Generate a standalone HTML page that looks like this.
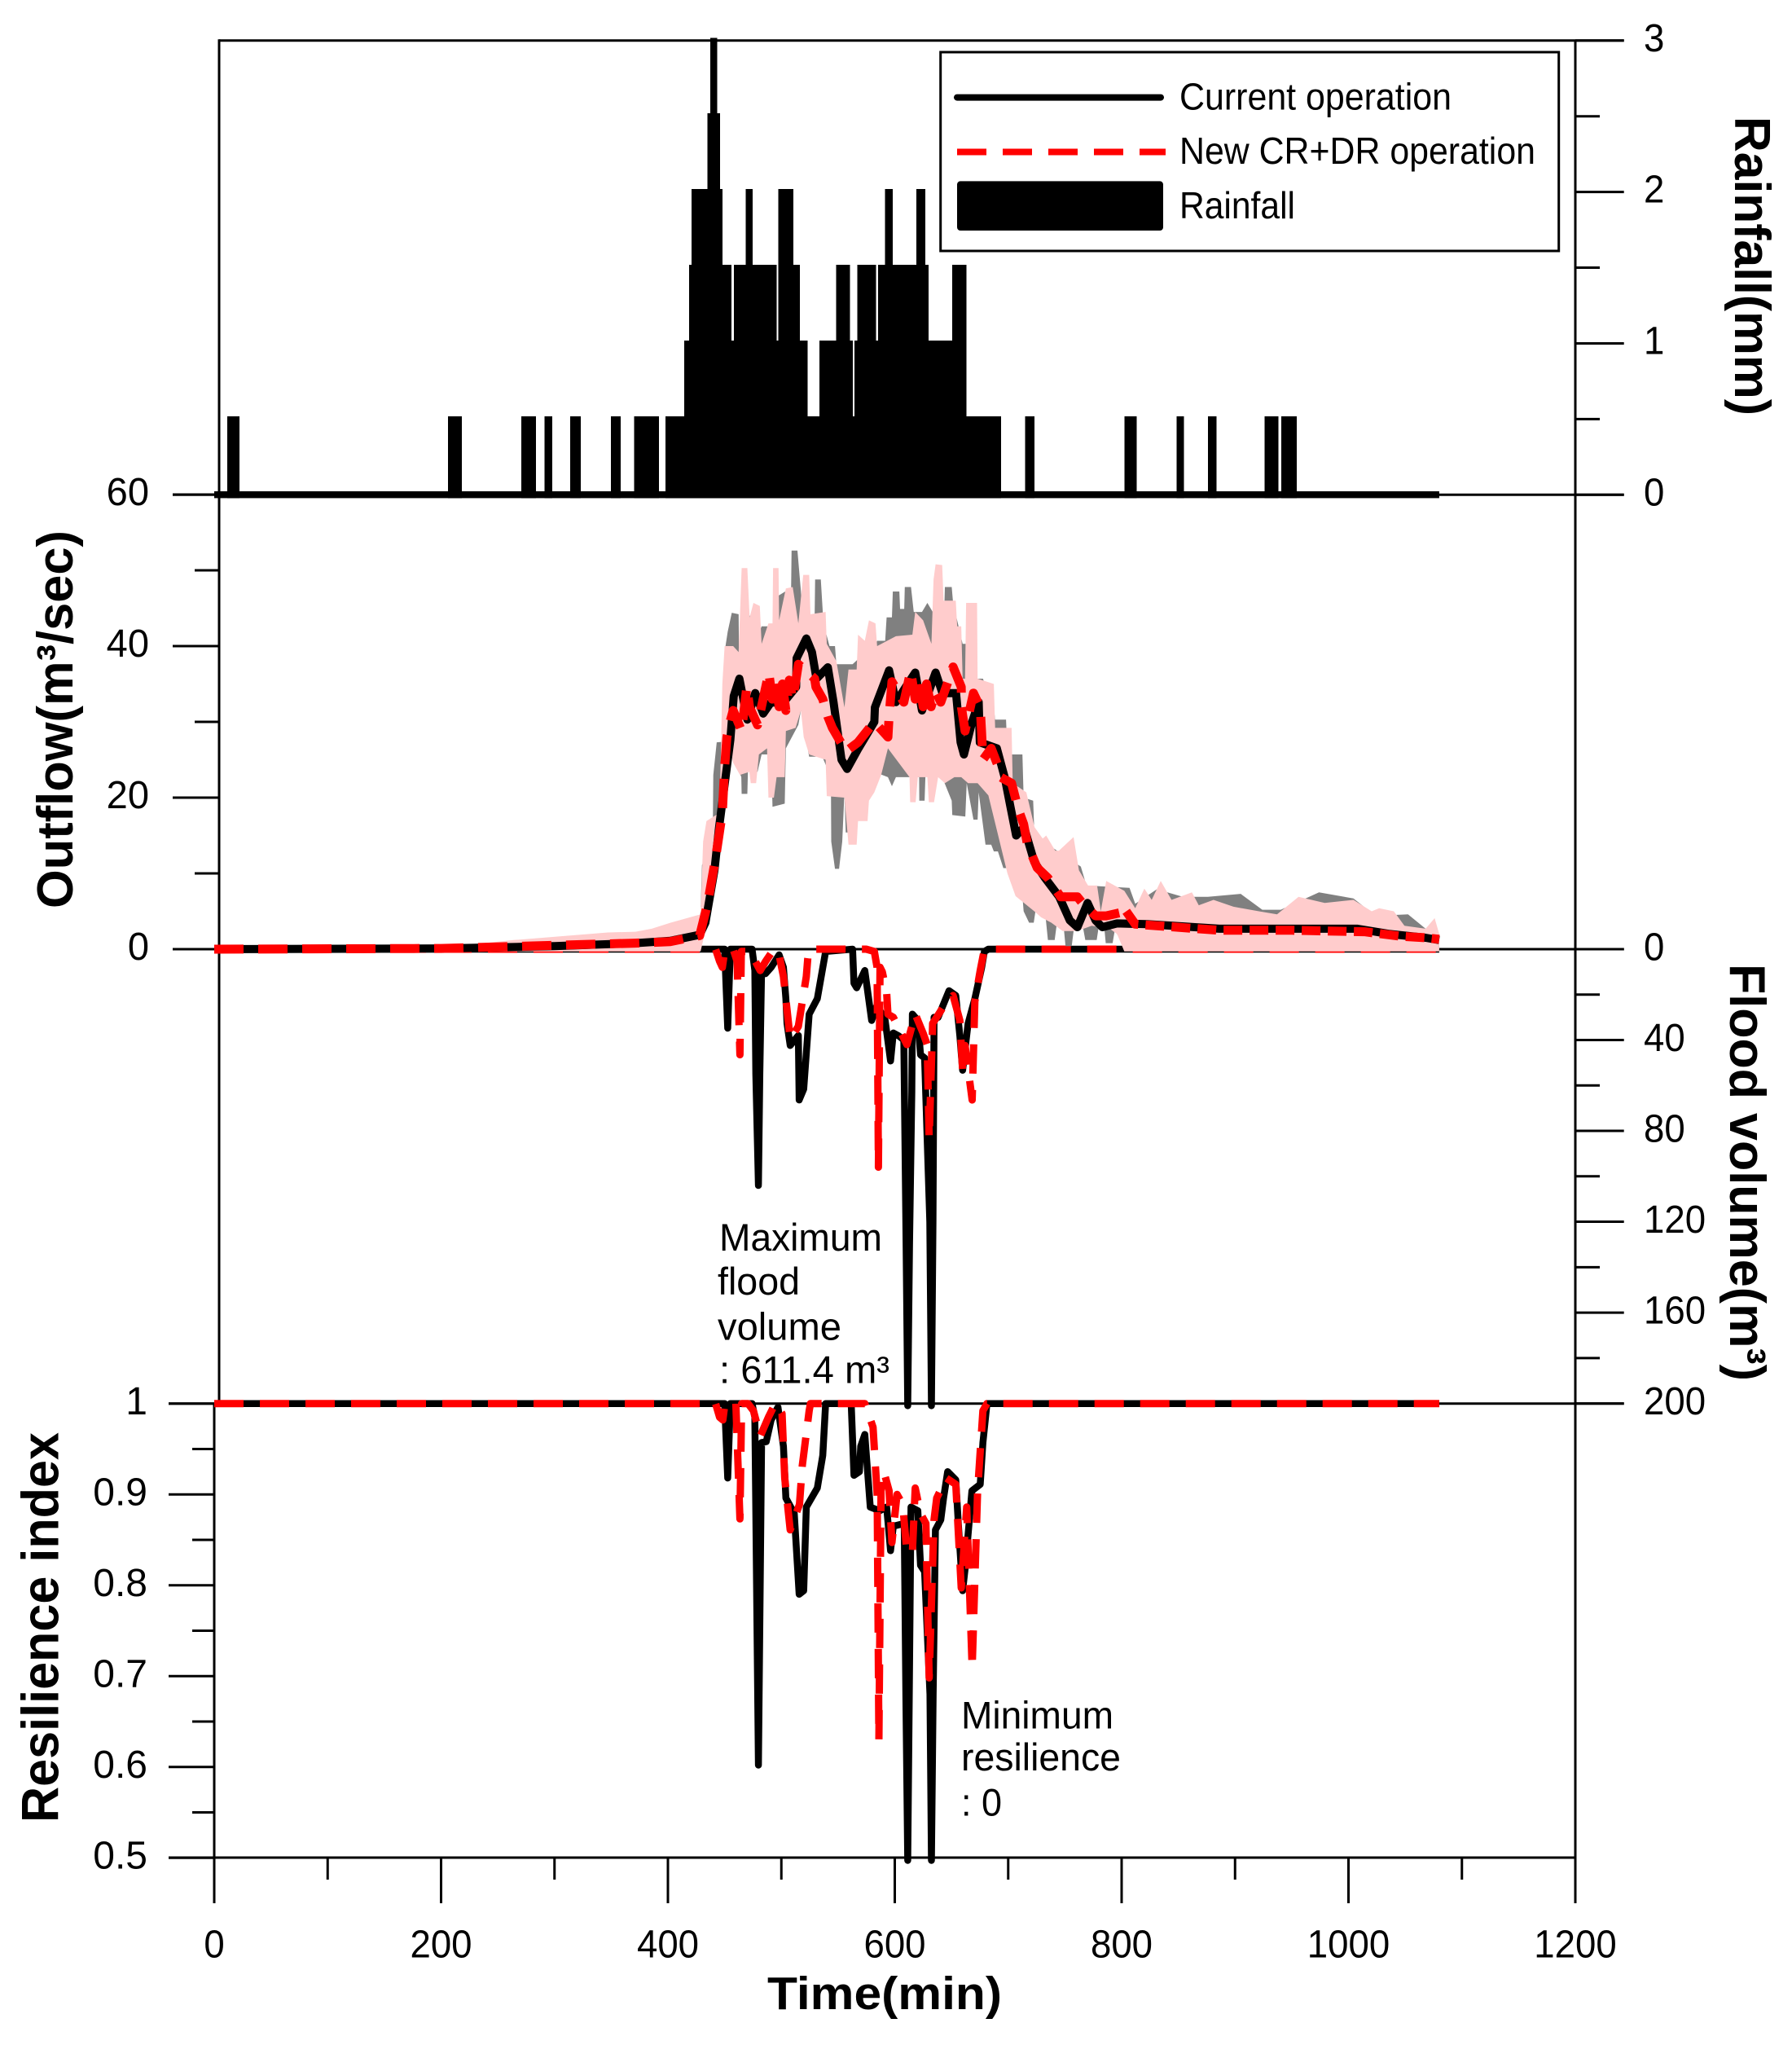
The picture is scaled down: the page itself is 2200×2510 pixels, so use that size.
<!DOCTYPE html>
<html lang="en">
<head>
<meta charset="utf-8">
<title>Outflow, flood volume and resilience chart</title>
<style>
html,body{margin:0;padding:0;background:#fff;}
svg{display:block;}
text{font-family:"Liberation Sans",Arial,sans-serif;fill:#000;}
</style>
</head>
<body>
<svg id="chart" xmlns="http://www.w3.org/2000/svg" width="2200" height="2510" viewBox="0 0 2200 2510">
  <rect x="0" y="0" width="2200" height="2510" fill="#fff"/>
  <g id="axes" stroke="#000" stroke-width="3" fill="none">
    <line x1="269" y1="49.8" x2="1993.7" y2="49.8"/>
    <line x1="269" y1="48.3" x2="269" y2="1722.7"/>
    <line x1="263" y1="1722.7" x2="263" y2="2336"/>
    <line x1="1934" y1="49.8" x2="1934" y2="2280"/>
    <line x1="212" y1="607.3" x2="1993.7" y2="607.3"/>
    <line x1="212" y1="1165" x2="1993.7" y2="1165"/>
    <line x1="207" y1="1722.7" x2="1993.7" y2="1722.7"/>
    <line x1="207" y1="2280" x2="1934" y2="2280"/>
  </g>
  <g id="ticks" stroke="#000" stroke-width="3"></g>
  <g id="tick-labels" font-size="48"></g>
  <g id="series"></g>

  <text transform="translate(2130,143) rotate(90)" font-size="62" font-weight="bold" textLength="367" lengthAdjust="spacingAndGlyphs">Rainfall(mm)</text>
  <text transform="translate(2124,1183) rotate(90)" font-size="62" font-weight="bold" textLength="512" lengthAdjust="spacingAndGlyphs">Flood volume(m³)</text>
  <text transform="translate(89,1115) rotate(-90)" font-size="62.5" font-weight="bold" textLength="464" lengthAdjust="spacingAndGlyphs">Outflow(m³/sec)</text>
  <text transform="translate(71.5,2237) rotate(-90)" font-size="64" font-weight="bold" textLength="479" lengthAdjust="spacingAndGlyphs">Resilience index</text>
  <text x="942" y="2466" font-size="57" font-weight="bold" textLength="288" lengthAdjust="spacingAndGlyphs">Time(min)</text>

  <g font-size="47">
    <text x="883" y="1535" textLength="200" lengthAdjust="spacingAndGlyphs">Maximum</text>
    <text x="881" y="1589" textLength="101" lengthAdjust="spacingAndGlyphs">flood</text>
    <text x="881" y="1644.7" textLength="152" lengthAdjust="spacingAndGlyphs">volume</text>
    <text x="883" y="1697.5" textLength="209" lengthAdjust="spacingAndGlyphs">: 611.4 m³</text>
  </g>
  <g font-size="47">
    <text x="1180" y="2121.7" textLength="187" lengthAdjust="spacingAndGlyphs">Minimum</text>
    <text x="1180" y="2173" textLength="196" lengthAdjust="spacingAndGlyphs">resilience</text>
    <text x="1180" y="2228.4" textLength="50" lengthAdjust="spacingAndGlyphs">: 0</text>
  </g>

  <g>
    <rect x="1154.7" y="64" width="759" height="244" fill="#fff" stroke="#000" stroke-width="3"/>
    <line x1="1175" y1="119.6" x2="1425" y2="119.6" stroke="#000" stroke-width="8" stroke-linecap="round"/>
    <line x1="1175" y1="186.5" x2="1431" y2="186.5" stroke="#f00" stroke-width="8" stroke-dasharray="36 20"/>
    <rect x="1175" y="222.4" width="253" height="60.6" rx="4" fill="#000"/>
    <text x="1448" y="134.7" font-size="46" textLength="334" lengthAdjust="spacingAndGlyphs">Current operation</text>
    <text x="1448" y="201" font-size="46" textLength="437" lengthAdjust="spacingAndGlyphs">New CR+DR operation</text>
    <text x="1448" y="268" font-size="46" textLength="142" lengthAdjust="spacingAndGlyphs">Rainfall</text>
  </g>
</svg>

<script>
/* ---------- tick values ---------- */
const timeTicks = [0, 200, 400, 600, 800, 1000, 1200];
const timeMinorTicks = [100, 300, 500, 700, 900, 1100];
const rainTicks = [0, 1, 2, 3];
const rainMinorTicks = [0.5, 1.5, 2.5];
const outflowTicks = [0, 20, 40, 60];
const outflowMinorTicks = [10, 30, 50];
const floodTicks = [0, 40, 80, 120, 160, 200];
const floodMinorTicks = [20, 60, 100, 140, 180];
const resilienceTicks = [0.5, 0.6, 0.7, 0.8, 0.9, 1];
const resilienceTickLabels = ['0.5', '0.6', '0.7', '0.8', '0.9', '1'];
const resilienceMinorTicks = [0.55, 0.65, 0.75, 0.85, 0.95];

/* ---------- rainfall (mm) as runs of equal intensity ---------- */
const rainStart = [11.6, 206.1, 270.6, 291.2, 313.9, 349.7, 370.3, 398, 414.2, 418.7, 420.7, 434.8, 437.3, 442.9, 445.4, 447.4, 455.5, 458, 468.6, 474.1, 495.3, 497.3, 509.9, 515.9, 522.5, 533.5, 548.2, 559.8, 562.3, 564.3, 566.8, 582.9, 585.4, 591.5, 597.5, 619.2, 626.3, 629.3, 650.5, 662.6, 714.9, 802.6, 848.5, 876.2, 926, 940.7];
const rainEnd = [21.7, 217.7, 283.2, 297.3, 322.5, 357.7, 391.5, 414.2, 418.7, 420.7, 434.8, 437.3, 442.9, 445.4, 447.4, 455.5, 458, 468.6, 474.1, 495.3, 497.3, 509.9, 515.9, 522.5, 533.5, 548.2, 559.8, 562.3, 564.3, 566.8, 582.9, 585.4, 591.5, 597.5, 619.2, 626.3, 629.3, 650.5, 662.6, 693.3, 722.5, 812.7, 854.5, 883.2, 937.6, 953.8];
const rainMm = [0.5, 0.5, 0.5, 0.5, 0.5, 0.5, 0.5, 0.5, 1, 1.5, 2, 2.5, 3, 2.5, 2, 1.5, 1, 1.5, 2, 1.5, 1, 2, 1.5, 1, 0.5, 1, 1.5, 1, 0.5, 1, 1.5, 1, 1.5, 2, 1.5, 2, 1.5, 1, 1.5, 0.5, 0.5, 0.5, 0.5, 0.5, 0.5, 0.5];
const rainEndTime = 1080;

/* ---------- outflow (m3/s) ---------- */
const currentOutflowTimes = [0, 200, 300, 371, 402, 428, 433, 441, 445, 451, 455, 458, 463, 470, 477, 484, 491, 501, 513, 513.5, 522, 527, 531, 541, 546, 553, 558, 568, 582, 582.5, 595, 601, 611, 618, 624, 636, 642, 654, 658, 661, 668, 674, 675, 690, 697, 702, 707, 714, 723, 732, 745, 754.3, 761, 770, 777, 783, 796, 822, 886, 950, 1008, 1036.5, 1068, 1080];
const currentOutflow = [0, 0.1, 0.4, 0.8, 1.1, 1.9, 3.5, 10.4, 16, 22.9, 27.6, 33.4, 35.7, 30.3, 33.8, 31.1, 32.6, 32.4, 34.6, 38.4, 41, 39.2, 35.7, 37.2, 32.6, 25, 23.8, 26.5, 30, 31.9, 36.8, 32.6, 34.9, 36.5, 31.5, 36.5, 33.8, 33.8, 27.3, 25.7, 29.9, 32.6, 27.3, 26.5, 22.6, 18.8, 15, 16.1, 11.5, 9.5, 6.9, 3.8, 2.9, 6.1, 3.8, 2.9, 3.4, 3.3, 2.7, 2.7, 2.7, 2, 1.5, 1.2];

const newOutflowTimes = [0, 200, 300, 371, 402, 428, 435, 442, 448, 450, 452, 454, 457.5, 465, 469.5, 472, 479, 489, 492, 495, 498, 501, 504, 507, 510, 513, 515, 529.3, 530.5, 536.5, 541, 545, 557, 567.6, 582, 594, 595, 597.5, 608, 614, 618, 621.5, 625, 628, 632, 636, 640.6, 651.4, 658.6, 658.8, 662, 669.4, 675.3, 676.5, 677.7, 685, 691, 693.3, 703, 709, 713.6, 717, 725.5, 735, 746.3, 761, 767, 777, 786.4, 804, 812, 886, 950, 1014, 1046, 1068, 1080];
const newOutflow = [0, 0.1, 0.5, 0.8, 1, 1.8, 6, 12, 18, 24, 28, 29.6, 31.5, 28.8, 34.6, 31.9, 29.6, 36.5, 33, 35.5, 32, 35, 31.5, 35.5, 33, 35.7, 37.6, 35.7, 34.6, 33, 30.7, 29.2, 26.1, 27.3, 30, 28, 30.7, 35.3, 32.6, 36.7, 33, 35.5, 32, 35, 32, 34, 32.6, 37.25, 34.6, 31.9, 28.8, 33.8, 31.9, 28.8, 25, 26.5, 24.2, 22.7, 21.9, 18.4, 16.5, 13.8, 10.75, 9.4, 6.9, 6.9, 5.8, 4.4, 4.4, 5, 3.3, 2.5, 2.5, 2.3, 1.7, 1.5, 1.3];
const newOutflowTailStart = 804;

/* spread of the current operation (grey envelope) */
const greyUpperTimes = [180, 264, 347, 388, 421, 428, 428.8, 430, 439.5, 440, 443, 450.3, 450.8, 452.7, 456.3, 462.3, 462.8, 470.6, 471.4, 474.2, 476.6, 482.6, 489.8, 492.2, 495.8, 503.4, 504, 508.2, 509, 514.2, 517.3, 518.5, 529.3, 529.8, 534.8, 536.5, 539, 542.5, 547.3, 548.5, 562.8, 570, 577.2, 584.4, 591.5, 592.8, 597.5, 598.3, 604, 604.7, 608.3, 608.8, 614.3, 616.7, 624, 628.7, 633.5, 634.6, 643, 644.2, 650.2, 651.4, 659.8, 667, 668, 677.7, 687.3, 688.5, 698.1, 699.3, 706.5, 712.5, 713.6, 722, 723.2, 733, 764, 769, 807, 812, 831, 854, 876, 905, 924, 940.3, 974, 1004.4, 1024, 1052.5, 1068, 1080];
const greyUpper = [0, 0.8, 1.8, 2.2, 2.5, 4, 5, 11.1, 14.2, 23, 27.3, 27.4, 40, 41.9, 44.4, 44.2, 36.5, 36.5, 44.2, 43.4, 40.3, 42.6, 42.6, 41, 46.5, 47.2, 43, 43, 52.6, 52.6, 47.2, 43.8, 43.8, 48.8, 48.8, 44.5, 41.9, 40, 40, 37.6, 37.6, 38.6, 37.3, 40.7, 40.7, 43.8, 43.8, 47.2, 47.2, 44.9, 44.9, 47.8, 47.8, 44.5, 44.5, 45.7, 44.5, 41.1, 41.1, 47.8, 47.8, 45.7, 40.3, 40.3, 35.7, 35.7, 31.9, 30.3, 30.3, 25.7, 25.7, 25.7, 20, 19.6, 14.6, 14, 10.9, 8.4, 8.1, 6, 7.9, 6.9, 6.9, 7.3, 5.2, 5.2, 7.5, 6.7, 4.4, 4.6, 2.7, 1];
const greyLowerTimes = [180, 428.3, 428.8, 443, 452.7, 457.5, 464.7, 465, 470, 470.6, 479, 482.6, 491, 492.2, 503, 504, 515, 517.3, 524.5, 530.5, 533, 543.7, 544, 547.3, 550.9, 553.7, 555.6, 556.8, 560.4, 562.8, 567.6, 571.2, 572.4, 582, 594, 597.5, 601, 621.5, 621.6, 626.3, 627.5, 641.8, 650.2, 650.7, 662.2, 663.4, 669.4, 673, 674, 680, 685, 687.3, 690.9, 695.7, 700.5, 702.9, 706, 712.5, 713.6, 718.4, 722.5, 724.5, 733, 735, 741, 743, 749, 750.5, 756, 758, 766, 768, 778, 780, 784.5, 786, 792, 794, 800, 808.9, 1080];
const greyLower = [0, 0, 5.4, 16.9, 23.8, 25.7, 22.7, 20.5, 20.5, 23.8, 23.4, 25.7, 25.7, 18.8, 19.2, 26.5, 29.6, 31.5, 25.4, 25.4, 26.5, 22.7, 14.2, 10.6, 10.6, 14.2, 20.7, 15.4, 15.4, 20, 17.3, 17.3, 21.1, 23.4, 22.7, 21.5, 22.7, 22.7, 19.6, 19.6, 25, 22.7, 19.6, 17.7, 17.5, 21.9, 17.1, 17.1, 20.7, 13.8, 13.8, 12.9, 12.9, 10.7, 10.7, 12.2, 8, 7, 5, 3.5, 3.5, 5.5, 4.2, 1.2, 1.2, 3.5, 2.8, 0.4, 0.4, 2.8, 2.8, 1.2, 1.2, 3.2, 3.2, 0.8, 0.8, 2.5, 1, 0, 0];

/* spread of the new operation (pink envelope) */
const pinkUpperTimes = [150, 200, 264, 347, 371.3, 385.7, 402.4, 428.8, 431, 434, 445.5, 448, 450, 457.5, 462.3, 465, 470, 472, 475.4, 481, 482.6, 488.6, 492.2, 492.7, 497.5, 498, 504, 510, 515, 519.3, 524.5, 525.7, 539, 540, 548.5, 555.6, 559.2, 566.4, 567.6, 573.6, 577.2, 583, 584.4, 601, 615.5, 618, 625, 632.3, 634.2, 636, 641.8, 643, 653.8, 655, 658.6, 659.8, 662, 662.9, 672.5, 673, 687.3, 688.5, 703, 704, 716, 723.2, 730.4, 733.5, 741.5, 744.7, 757.6, 762.4, 770.4, 778.4, 781.6, 786.4, 802.4, 812, 820, 826.5, 834.5, 844, 862, 868, 881, 898.6, 921, 937, 956, 979, 1004.4, 1020.5, 1027, 1040, 1049.3, 1068, 1076, 1080];
const pinkUpper = [0, 0.2, 1.2, 2.2, 2.3, 2.7, 3.5, 4.6, 14.2, 16.9, 18, 35, 40, 40, 39.2, 50.3, 50.3, 43.8, 45.7, 45.3, 40.3, 43, 43, 50.3, 50.3, 43.4, 47.6, 47.8, 43, 49.4, 49.4, 44.2, 44.5, 40.3, 38, 31.9, 36.9, 36.9, 41.5, 40.7, 43.4, 43, 40, 41.3, 41.5, 44.5, 43.4, 40.3, 48.8, 50.8, 50.7, 46, 46, 42.6, 42.6, 35.7, 35.7, 45.7, 45.7, 35.7, 35, 29.2, 29.2, 21.9, 20.7, 16.1, 14.6, 15, 13, 13, 14.8, 10.4, 8.4, 8.4, 5, 9, 7.7, 5.4, 8, 6.5, 9, 6.5, 7.5, 5.8, 6.5, 5.6, 5, 4.6, 6.9, 6.1, 6.5, 5, 5.4, 5, 3.1, 2.7, 4.1, 2];
const pinkLowerTimes = [150, 428.8, 433.5, 440.7, 450.3, 454, 457.5, 463.5, 471.8, 473, 477.8, 480.2, 487.4, 488.6, 493.4, 495.8, 503, 504, 512.5, 517.3, 519.7, 524.5, 539, 540, 555.6, 559.2, 566.4, 567.6, 576, 577.2, 582, 588, 594, 613, 613.6, 618.4, 620.3, 628.7, 630, 634.6, 638.2, 644.2, 652.6, 658.6, 664.6, 673, 682.5, 699.3, 706.5, 723, 729, 738, 748, 761, 773.6, 789.6, 796, 802.4, 1080];
const pinkLower = [-0.3, -0.3, 2.7, 11.1, 23, 26.9, 24.6, 23, 23.4, 21.9, 21.9, 25.7, 26.5, 20, 20, 22.7, 22.7, 28.8, 29.2, 31.5, 28, 25.7, 25, 20.2, 20, 13.8, 13.8, 16.9, 16.9, 19.6, 20.7, 23, 26.5, 22.7, 19.4, 19.4, 22.7, 22.7, 19.4, 19.4, 22.7, 21.9, 22.7, 22.7, 21.9, 21.9, 20.3, 10, 7, 5, 4.2, 3.5, 2.4, 2.4, 3.1, 2.7, 2, -0.3, -0.3];

/* ---------- flood volume (m3) ---------- */
const currentFloodTimes = [0, 450, 452.7, 455, 474.2, 476.6, 477.5, 479.8, 481, 482.6, 486, 491, 498, 501.8, 504, 505, 507.8, 515, 515.7, 519.7, 524.5, 531.7, 539, 562.8, 564, 566.4, 573.6, 579.6, 584.4, 591.5, 596.3, 598.7, 603.5, 608, 610, 611.4, 613, 615, 615.5, 620.3, 622.7, 626.3, 630.9, 632.3, 633.7, 634.6, 638.2, 647.8, 653.8, 657.4, 659.8, 664.6, 670.6, 676.6, 679, 682.5, 1080];
const currentFlood = [0, 0, 34.8, 0, 0, 9.4, 55, 104, 55, 9, 10.8, 8, 2.5, 8, 21.8, 32.7, 42.4, 38, 66.4, 61.6, 28.6, 21.8, 1, 0, 15, 17, 9.4, 31.4, 24.5, 31.4, 49.2, 36.9, 38.2, 40, 130, 611.4, 130, 63, 28.6, 31.4, 46.5, 47.9, 120, 611.4, 120, 30, 30, 18.3, 20.4, 38.2, 53.3, 32.7, 21.8, 8, 1, 0, 0];
const newFloodTimes = [0, 442, 445.5, 448, 450, 457.5, 461, 463.5, 464.7, 471.8, 476.6, 481.4, 486.2, 493.4, 498, 501.8, 505.4, 507.8, 515, 518.5, 522, 523.3, 524.5, 574.8, 582, 584.4, 585.6, 587, 589, 592.8, 594, 598.7, 610.7, 618, 625, 628.6, 630.3, 633.4, 642, 651.4, 657.4, 659.8, 662, 668.2, 670.6, 675.3, 679, 1080];
const newFlood = [0, 0, 5.3, 8, 1, 0, 5.3, 46.5, 1, 1, 5, 9.4, 5.3, 0, 2.5, 12, 28.6, 39.6, 34, 23, 12, 4, 0, 0, 1, 8, 96, 8, 10, 19, 28.6, 30, 42, 28.6, 37, 42, 83.5, 32.7, 26, 20.4, 31.4, 53.3, 42.4, 66.4, 23, 9.4, 0, 0];

/* ---------- resilience index ---------- */
const currentResilienceTimes = [0, 450, 452.7, 455, 474.2, 476.6, 479.8, 482.6, 486.7, 491, 497, 501.8, 504, 511.4, 515.7, 519.7, 522, 531.7, 536.5, 539, 561.6, 564, 568.8, 570, 573.6, 578.4, 586.8, 592.8, 596.3, 598.7, 608.3, 609.8, 611.4, 612.8, 614.3, 620.3, 622.7, 626.3, 631, 632.3, 633.8, 635.8, 640.6, 643, 646.6, 653.8, 656, 659.8, 662, 668, 675.3, 677.7, 681.3, 1080];
const currentResilience = [1, 1, 0.918, 1, 1, 0.985, 0.602, 0.957, 0.958, 0.982, 0.996, 0.953, 0.896, 0.879, 0.79, 0.794, 0.886, 0.907, 0.943, 1, 1, 0.921, 0.925, 0.953, 0.966, 0.886, 0.882, 0.886, 0.838, 0.865, 0.868, 0.68, 0, 0.68, 0.886, 0.882, 0.822, 0.815, 0.68, 0, 0.68, 0.861, 0.872, 0.896, 0.925, 0.916, 0.868, 0.794, 0.818, 0.904, 0.911, 0.957, 1, 1];
const newResilienceTimes = [0, 442, 445.5, 448.4, 450.3, 459.9, 463.5, 465, 470.6, 475.4, 481.4, 488.6, 494.6, 500.6, 503, 507.8, 516, 518.5, 524.5, 525.7, 573.6, 580.8, 584.5, 586, 588, 590.4, 595, 597.5, 602, 607, 610.7, 615.5, 618, 622.7, 627.4, 630.3, 634.6, 637, 645.4, 653.8, 658.6, 663.4, 668.2, 673, 677.7, 681.3, 1080];
const newResilience = [1, 1, 0.985, 0.982, 1, 1, 0.873, 1, 1, 0.992, 0.964, 0.985, 1, 0.989, 0.918, 0.861, 0.889, 0.932, 0.992, 1, 1, 0.974, 0.9, 0.63, 0.918, 0.925, 0.904, 0.847, 0.9, 0.889, 0.836, 0.836, 0.907, 0.879, 0.868, 0.698, 0.872, 0.896, 0.918, 0.911, 0.797, 0.886, 0.709, 0.904, 0.992, 1, 1];

/* ---------- axis functions (flood and resilience saturate at their panel edge) ---------- */
const xTime = t => 263 + 1.3925 * t;
const yRain = v => 607.3 - 185.83 * v;
const yOutflow = v => 1165 - 9.3 * v;
const yFlood = v => 1165 + 2.788 * Math.min(v, 201);
const yResilience = v => 1722.7 + (1 - Math.max(v, 0.497)) * 1115;

const NS = 'http://www.w3.org/2000/svg';
const tickLayer = document.getElementById('ticks');
const labelLayer = document.getElementById('tick-labels');
const seriesLayer = document.getElementById('series');

function create(tag, parent, attrs) {
  const node = document.createElementNS(NS, tag);
  for (const key in attrs) node.setAttribute(key, attrs[key]);
  parent.appendChild(node);
  return node;
}
function tickLine(x1, y1, x2, y2) {
  return create('line', tickLayer, { x1: x1, y1: y1, x2: x2, y2: y2 });
}
function tickText(x, y, str, anchor, sx) {
  const node = create('text', labelLayer, {
    transform: 'translate(' + x + ',' + y + ') scale(' + sx + ',1)',
    'text-anchor': anchor
  });
  node.textContent = str;
  return node;
}
function linePath(times, values, yFn) {
  return times.map((t, i) => (i ? 'L' : 'M') + xTime(t).toFixed(1) + ' ' + yFn(values[i]).toFixed(1)).join('');
}
function bandPath(upT, upV, loT, loV, yFn) {
  let d = linePath(upT, upV, yFn);
  for (let i = loT.length - 1; i >= 0; i--) {
    d += 'L' + xTime(loT[i]).toFixed(1) + ' ' + yFn(loV[i]).toFixed(1);
  }
  return d + 'Z';
}

/* ---------- ticks and labels ---------- */
timeTicks.forEach(v => {
  const tick = tickLine(xTime(v), 2280, xTime(v), 2336);
  
  
  const label = tickText(xTime(v), 2402.5, String(v), 'middle', 0.95);
  
  
});
timeMinorTicks.forEach(v => {
  const tick = tickLine(xTime(v), 2280, xTime(v), 2307);
  
  
});
rainTicks.forEach(v => {
  const tick = tickLine(1934, yRain(v), 1993.7, yRain(v));
  
  
  const label = tickText(2018, yRain(v) + 13, String(v), 'start', 0.95);
  
  
});
rainMinorTicks.forEach(v => {
  const tick = tickLine(1934, yRain(v), 1964, yRain(v));
  
  
});
outflowTicks.forEach(v => {
  const tick = tickLine(212, yOutflow(v), 269, yOutflow(v));
  
  
  const label = tickText(183, yOutflow(v) + 13, String(v), 'end', 0.98);
  
  
});
outflowMinorTicks.forEach(v => {
  const tick = tickLine(239, yOutflow(v), 269, yOutflow(v));
  
  
});
floodTicks.forEach(v => {
  const tick = tickLine(1934, yFlood(v), 1993.7, yFlood(v));
  
  
  const label = tickText(2018, yFlood(v) + 13.5, String(v), 'start', 0.95);
  
  
});
floodMinorTicks.forEach(v => {
  const tick = tickLine(1934, yFlood(v), 1964, yFlood(v));
  
  
});
resilienceTicks.forEach((v, i) => {
  const tick = tickLine(207, yResilience(v), 263, yResilience(v));
  
  
  const label = tickText(181, yResilience(v) + 13.5, resilienceTickLabels[i], 'end', 1);
  
  
});
resilienceMinorTicks.forEach(v => {
  const tick = tickLine(236, yResilience(v), 263, yResilience(v));
  
  
});

/* ---------- rainfall ---------- */
const rainBase = create('rect', seriesLayer, {
  x: xTime(0), y: 603, width: xTime(rainEndTime) - xTime(0), height: 8.4, fill: '#000'
});


rainStart.forEach((start, i) => {
  const top = yRain(rainMm[i]) - 3.5;
  const bar = create('rect', seriesLayer, {
    x: xTime(start), y: top, width: xTime(rainEnd[i]) - xTime(start) + 0.8, height: 611.4 - top, fill: '#000', 'shape-rendering': 'crispEdges'
  });
  
  
});

const solidStyle = { fill: 'none', stroke: '#000', 'stroke-width': 8.5, 'stroke-linejoin': 'round' };
const dashStyle = { fill: 'none', stroke: '#f00', 'stroke-width': 9, 'stroke-linejoin': 'round', 'stroke-dasharray': '36 20' };
const thickSolidStyle = { fill: 'none', stroke: '#000', 'stroke-width': 10, 'stroke-linejoin': 'round' };
const thickDashStyle = { fill: 'none', stroke: '#f00', 'stroke-width': 11, 'stroke-linejoin': 'round', 'stroke-dasharray': '36 18' };
const tailDashStyle = { fill: 'none', stroke: '#f00', 'stroke-width': 11, 'stroke-linejoin': 'round', 'stroke-dasharray': '23 9' };

/* ---------- flood volume (drawn beneath the outflow spread) ---------- */
const currentFloodLine = create('path', seriesLayer, Object.assign({ d: linePath(currentFloodTimes, currentFlood, yFlood) }, solidStyle));


const newFloodLine = create('path', seriesLayer, Object.assign({ d: linePath(newFloodTimes, newFlood, yFlood) }, dashStyle));



/* ---------- outflow ---------- */
const greyBand = create('path', seriesLayer, {
  d: bandPath(greyUpperTimes, greyUpper, greyLowerTimes, greyLower, yOutflow), fill: '#808080'
});


const pinkBand = create('path', seriesLayer, {
  d: bandPath(pinkUpperTimes, pinkUpper, pinkLowerTimes, pinkLower, yOutflow), fill: '#ffcccc'
});



const currentOutflowLine = create('path', seriesLayer, Object.assign({ d: linePath(currentOutflowTimes, currentOutflow, yOutflow) }, thickSolidStyle));


const tailIndex = newOutflowTimes.findIndex(t => t >= newOutflowTailStart);
const newOutflowLine = create('path', seriesLayer, Object.assign({ d: linePath(newOutflowTimes.slice(0, tailIndex + 1), newOutflow.slice(0, tailIndex + 1), yOutflow) }, thickDashStyle));


const newOutflowTail = create('path', seriesLayer, Object.assign({ d: linePath(newOutflowTimes.slice(tailIndex), newOutflow.slice(tailIndex), yOutflow) }, tailDashStyle));



/* ---------- resilience ---------- */
const currentResilienceLine = create('path', seriesLayer, Object.assign({ d: linePath(currentResilienceTimes, currentResilience, yResilience) }, solidStyle));


const newResilienceLine = create('path', seriesLayer, Object.assign({ d: linePath(newResilienceTimes, newResilience, yResilience) }, dashStyle));


</script>
</body>
</html>
